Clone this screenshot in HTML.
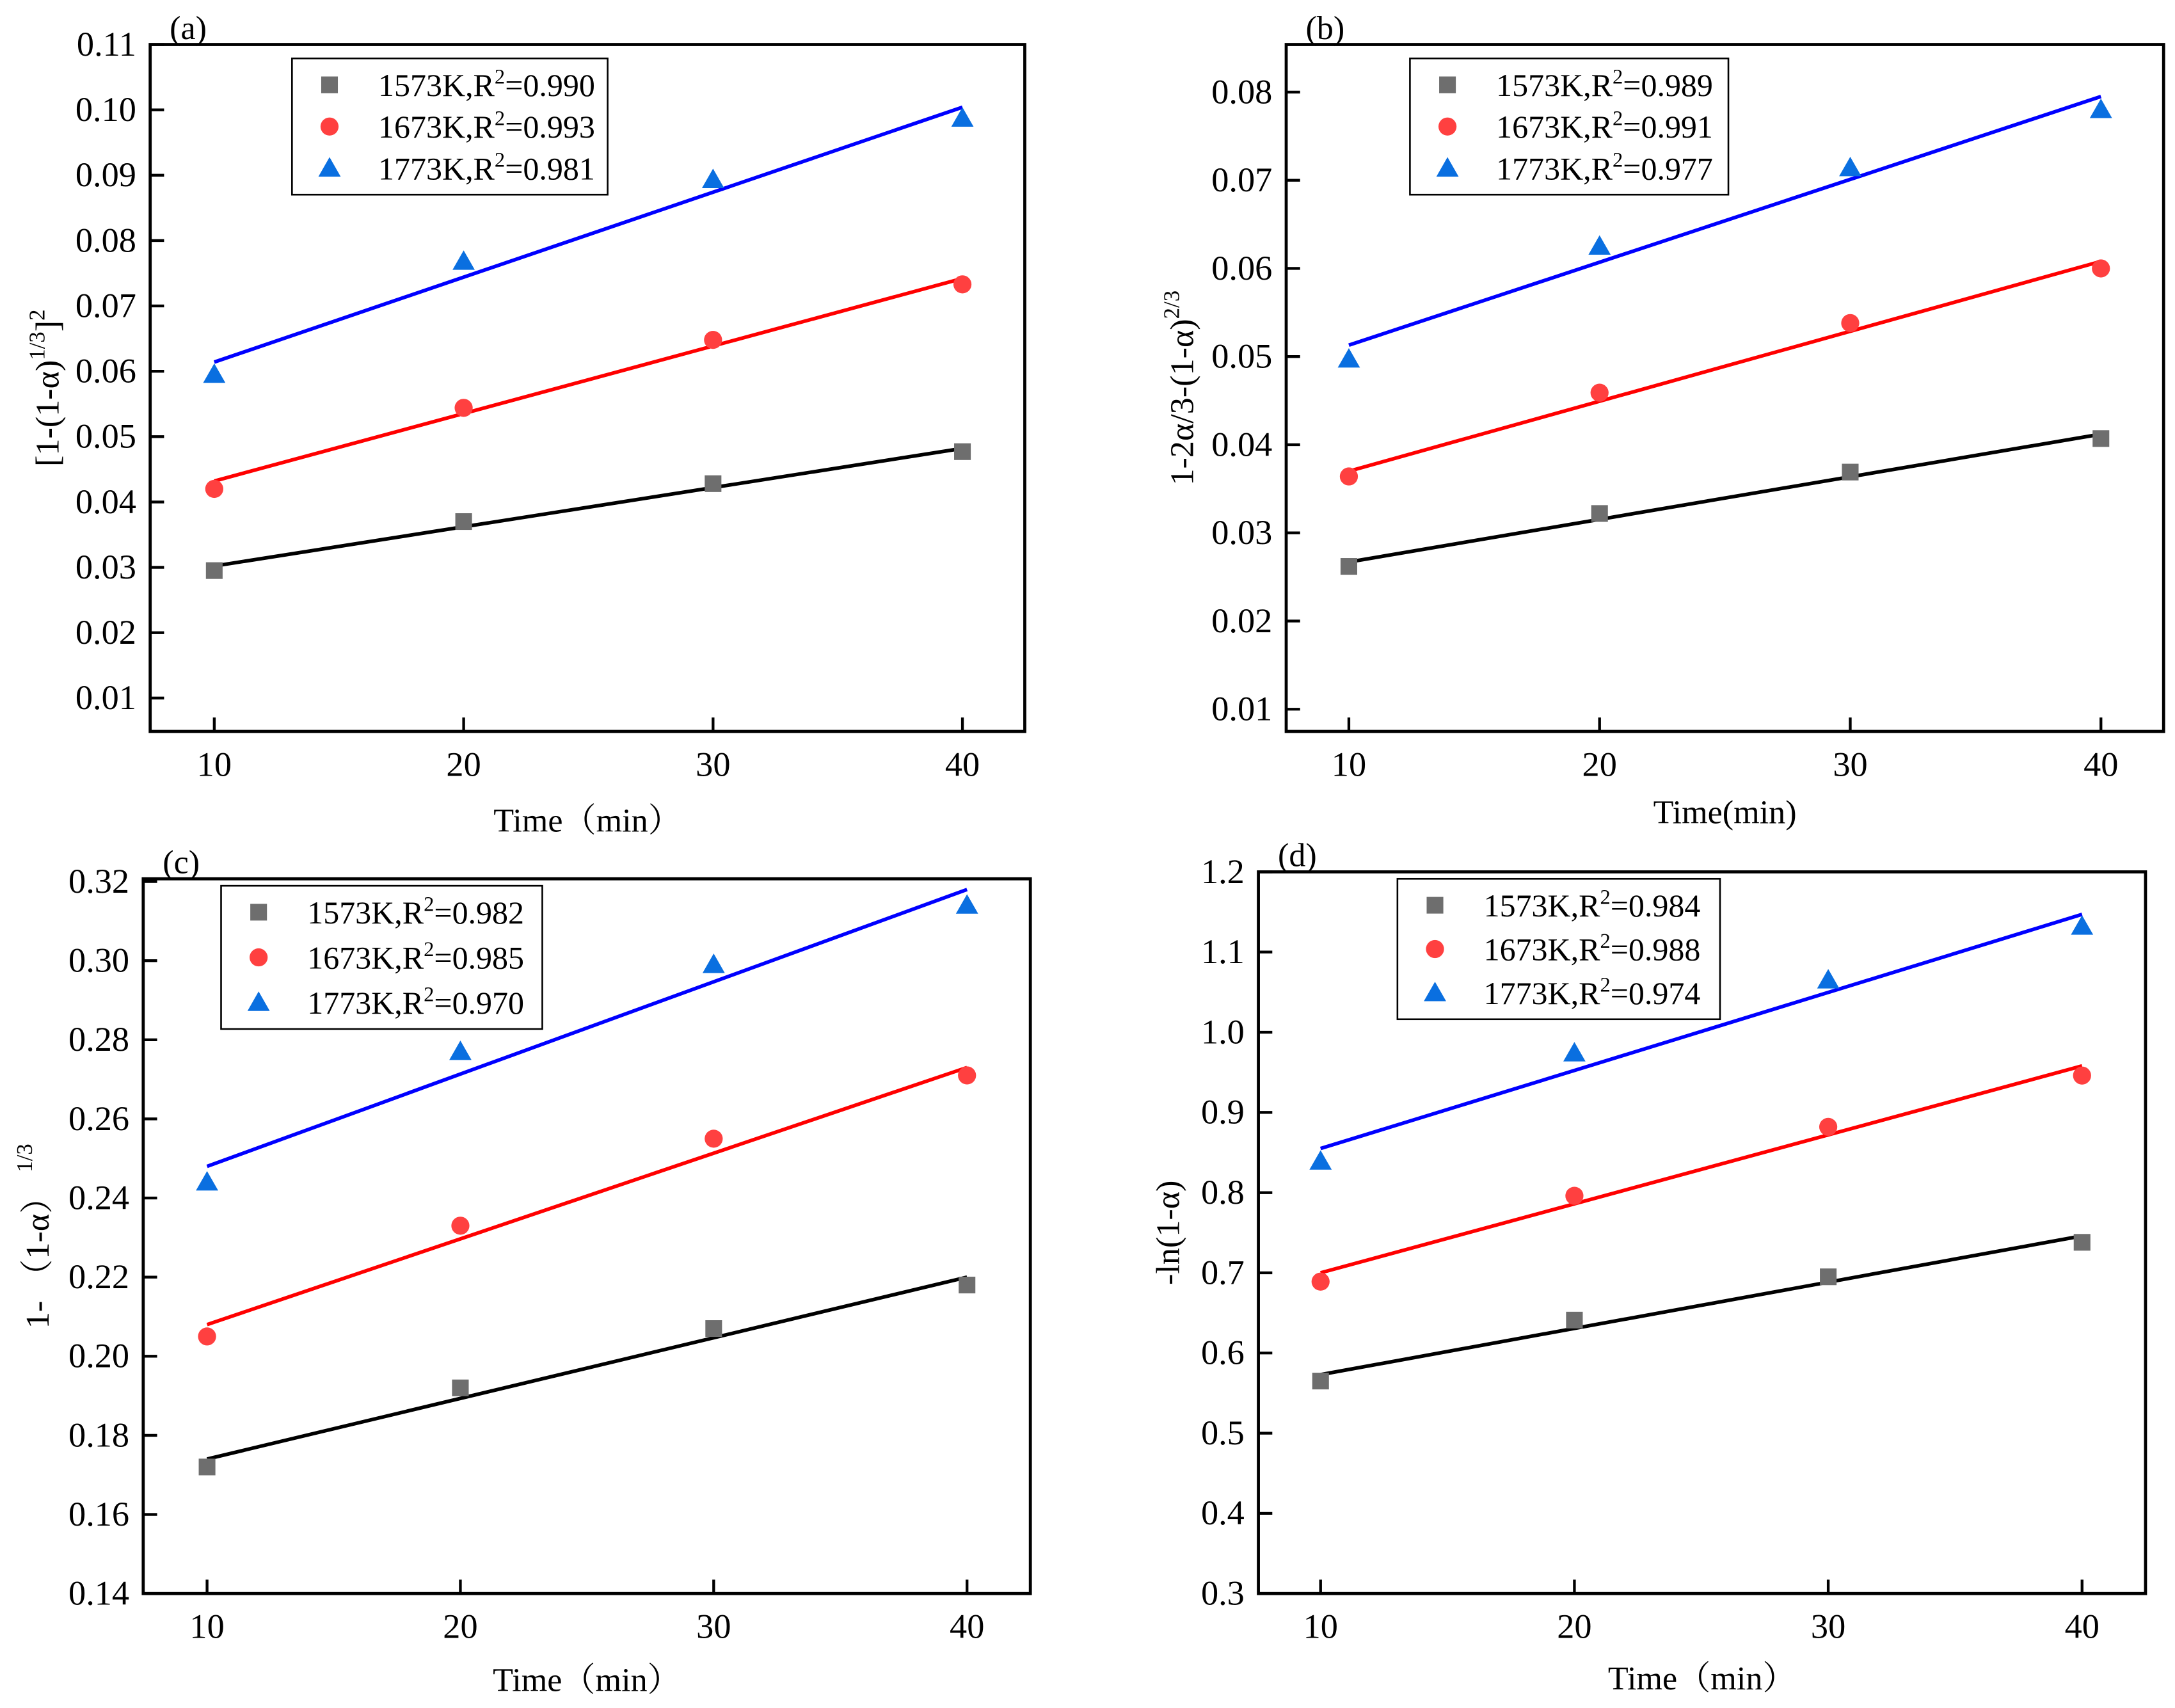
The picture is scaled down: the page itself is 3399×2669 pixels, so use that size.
<!DOCTYPE html>
<html><head><meta charset="utf-8"><style>
html,body{margin:0;padding:0;background:#fff;}
svg{display:block;}
text{font-family:"Liberation Serif","Noto Serif CJK SC",serif;fill:#000;}
</style></head><body>
<svg id="fig" xmlns="http://www.w3.org/2000/svg" width="3399" height="2669" viewBox="0 0 1564.2 1228.3" preserveAspectRatio="none" font-family="Liberation Serif, Noto Serif CJK SC, serif"></svg>
<script>
// shared categories
const timeValues = [10, 20, 30, 40];
const xTickLabels = ["10", "20", "30", "40"];
const seriesLabels = ["1573K", "1673K", "1773K"];

// panel a
const aBlack = [0.0295, 0.0370, 0.0428, 0.0477];
const aRed = [0.0420, 0.0544, 0.0648, 0.0733];
const aBlue = [0.0595, 0.0768, 0.0893, 0.0987];
const aFitBlack = [0.0302, 0.0482];
const aFitRed = [0.0432, 0.0742];
const aFitBlue = [0.0614, 0.1004];
const aR2 = ["0.990", "0.993", "0.981"];
const aYTicks = [0.01,0.02,0.03,0.04,0.05,0.06,0.07,0.08,0.09,0.10,0.11];
const aYTickLabels = ["0.01","0.02","0.03","0.04","0.05","0.06","0.07","0.08","0.09","0.10","0.11"];

// panel b
const bBlack = [0.0262, 0.0322, 0.0369, 0.0407];
const bRed = [0.0364, 0.0459, 0.0538, 0.0600];
const bBlue = [0.0497, 0.0625, 0.0714, 0.0780];
const bFitBlack = [0.0267, 0.0412];
const bFitRed = [0.0370, 0.0608];
const bFitBlue = [0.0513, 0.0795];
const bR2 = ["0.989", "0.991", "0.977"];
const bYTicks = [0.01,0.02,0.03,0.04,0.05,0.06,0.07,0.08];
const bYTickLabels = ["0.01","0.02","0.03","0.04","0.05","0.06","0.07","0.08"];

// panel c
const cBlack = [0.172, 0.192, 0.207, 0.218];
const cRed = [0.205, 0.233, 0.255, 0.271];
const cBlue = [0.244, 0.277, 0.299, 0.314];
const cFitBlack = [0.174, 0.220];
const cFitRed = [0.208, 0.273];
const cFitBlue = [0.248, 0.318];
const cR2 = ["0.982", "0.985", "0.970"];
const cYTicks = [0.14,0.16,0.18,0.20,0.22,0.24,0.26,0.28,0.30,0.32];
const cYTickLabels = ["0.14","0.16","0.18","0.20","0.22","0.24","0.26","0.28","0.30","0.32"];

// panel d
const dBlack = [0.565, 0.641, 0.695, 0.738];
const dRed = [0.689, 0.796, 0.882, 0.946];
const dBlue = [0.839, 0.974, 1.065, 1.132];
const dFitBlack = [0.573, 0.746];
const dFitRed = [0.700, 0.958];
const dFitBlue = [0.855, 1.147];
const dR2 = ["0.984", "0.988", "0.974"];
const dYTicks = [0.3,0.4,0.5,0.6,0.7,0.8,0.9,1.0,1.1,1.2];
const dYTickLabels = ["0.3","0.4","0.5","0.6","0.7","0.8","0.9","1.0","1.1","1.2"];

const NS = "http://www.w3.org/2000/svg";
const svg = document.getElementById("fig");
function mk(tag, attrs, parent){
  const e = document.createElementNS(NS, tag);
  for (const k in attrs) e.setAttribute(k, attrs[k]);
  (parent || svg).appendChild(e);
  return e;
}
const colors = {black:"#6e6e6e", red:"#ff4040", blue:"#0a6fe0"};
const lineColors = ["#000000", "#ff0000", "#0000ff"];

function panel(cfg){
  const g = mk("g", {});
  
  
  const L=cfg.box[0], R=cfg.box[1], T=cfg.box[2], B=cfg.box[3];
  const xs = v => L + (v - cfg.xr[0]) / (cfg.xr[1] - cfg.xr[0]) * (R - L);
  const ys = v => B - (v - cfg.yr[0]) / (cfg.yr[1] - cfg.yr[0]) * (B - T);
  cfg.yt.forEach((v, i) => {
    const y = ys(v);
    const t = mk("line", {x1:L, x2:L+10, y1:y, y2:y, stroke:"#000", "stroke-width":2}, g);
    
    
    const lb = mk("text", {x:L-10, y:y+8, "font-size":25, "text-anchor":"end"}, g);
    
    
    lb.textContent = cfg.ytl[i];
  });
  timeValues.forEach((v, i) => {
    const x = xs(v);
    const t = mk("line", {x1:x, x2:x, y1:B, y2:B-10, stroke:"#000", "stroke-width":2}, g);
    
    
    const lb = mk("text", {x:x, y:B+32, "font-size":25, "text-anchor":"middle"}, g);
    
    
    lb.textContent = xTickLabels[i];
  });
  const pts = [cfg.black, cfg.red, cfg.blue];
  const fits = [cfg.fb, cfg.fr, cfg.fu];
  const mcol = [colors.black, colors.red, colors.blue];
  fits.forEach((f, s) => {
    const ln = mk("line", {x1:xs(timeValues[0]), y1:ys(f[0]), x2:xs(timeValues[3]), y2:ys(f[1]), stroke:lineColors[s], "stroke-width":2.6}, g);
    
    
  });
  pts.forEach((arr, s) => {
    arr.forEach((v, i) => {
      const x = xs(timeValues[i]), y = ys(v);
      let m;
      if (s === 0) m = mk("rect", {x:x-6, y:y-6, width:12, height:12, fill:mcol[s]}, g);
      else if (s === 1) m = mk("circle", {cx:x, cy:y, r:6.5, fill:mcol[s]}, g);
      else m = mk("polygon", {points:(x)+","+(y-8)+" "+(x-8)+","+(y+6)+" "+(x+8)+","+(y+6), fill:mcol[s]}, g);
      
      
    });
  });
  const fr = mk("rect", {x:L, y:T, width:R-L, height:B-T, fill:"none", stroke:"#000", "stroke-width":2.2}, g);
  
  
  const pl = mk("text", {x:L+14, y:T-4, "font-size":24}, g);
  
  
  pl.textContent = "(" + cfg.id + ")";
  const lg = cfg.leg;
  const lr = mk("rect", {x:lg[0], y:lg[1], width:lg[2], height:lg[3], fill:"#fff", stroke:"#000", "stroke-width":1.2}, g);
  
  
  for (let s = 0; s < 3; s++) {
    const cy = lg[1] + 19 + s * (lg[3] - 38) / 2;
    const mx = lg[0] + 27;
    let m;
    if (s === 0) m = mk("rect", {x:mx-6, y:cy-6, width:12, height:12, fill:mcol[s]}, g);
    else if (s === 1) m = mk("circle", {cx:mx, cy:cy, r:6.5, fill:mcol[s]}, g);
    else m = mk("polygon", {points:mx+","+(cy-8)+" "+(mx-8)+","+(cy+6)+" "+(mx+8)+","+(cy+6), fill:mcol[s]}, g);
    
    
    const t = mk("text", {x:lg[0]+62, y:cy+8, "font-size":23}, g);
    
    
    t.innerHTML = seriesLabels[s] + ",R<tspan dy='-9' font-size='15'>2</tspan><tspan dy='9'>=" + cfg.r2[s] + "</tspan>";
  }
  const xt = mk("text", {x:(L+R)/2, y:cfg.xty, "font-size":24, "text-anchor":"middle"}, g);
  
  
  xt.textContent = cfg.xtitle;
  const yt = mk("text", {x:0, y:0, "font-size":24, "text-anchor":"middle", transform:"translate("+cfg.ytx+","+((T+B)/2+cfg.ytdy)+") rotate(-90)"}, g);
  
  
  yt.innerHTML = cfg.ytitle;
}

panel({id:"a", box:[108,737,32,526], xr:[7.43,42.5], yr:[0.00489,0.11],
  yt:aYTicks, ytl:aYTickLabels, black:aBlack, red:aRed, blue:aBlue, fb:aFitBlack, fr:aFitRed, fu:aFitBlue,
  r2:aR2, leg:[210,42,227,98], xty:598, xtitle:"Time（min）", ytx:42, ytdy:0,
  ytitle:"[1-(1-α)<tspan dy='-10' font-size='16'>1/3</tspan><tspan dy='10'>]</tspan><tspan dy='-10' font-size='16'>2</tspan>"});
panel({id:"b", box:[925,1556,32,526], xr:[7.5,42.5], yr:[0.00748,0.0854],
  yt:bYTicks, ytl:bYTickLabels, black:bBlack, red:bRed, blue:bBlue, fb:bFitBlack, fr:bFitRed, fu:bFitBlue,
  r2:bR2, leg:[1014,42,229,98], xty:592, xtitle:"Time(min)", ytx:858, ytdy:0,
  ytitle:"1-2α/3-(1-α)<tspan dy='-10' font-size='16'>2/3</tspan>"});
panel({id:"c", box:[103,741,632,1146], xr:[7.48,42.5], yr:[0.14,0.3207],
  yt:cYTicks, ytl:cYTickLabels, black:cBlack, red:cRed, blue:cBlue, fb:cFitBlack, fr:cFitRed, fu:cFitBlue,
  r2:cR2, leg:[159,637,231,103], xty:1216, xtitle:"Time（min）", ytx:35, ytdy:0,
  ytitle:"1- （1-α） <tspan dy='-12' font-size='16'>1/3</tspan>"});
panel({id:"d", box:[905,1543,627,1146], xr:[7.55,42.5], yr:[0.3,1.2],
  yt:dYTicks, ytl:dYTickLabels, black:dBlack, red:dRed, blue:dBlue, fb:dFitBlack, fr:dFitRed, fu:dFitBlue,
  r2:dR2, leg:[1005,632,232,101], xty:1215, xtitle:"Time（min）", ytx:848, ytdy:0,
  ytitle:"-ln(1-α)"});
</script>
</body></html>
